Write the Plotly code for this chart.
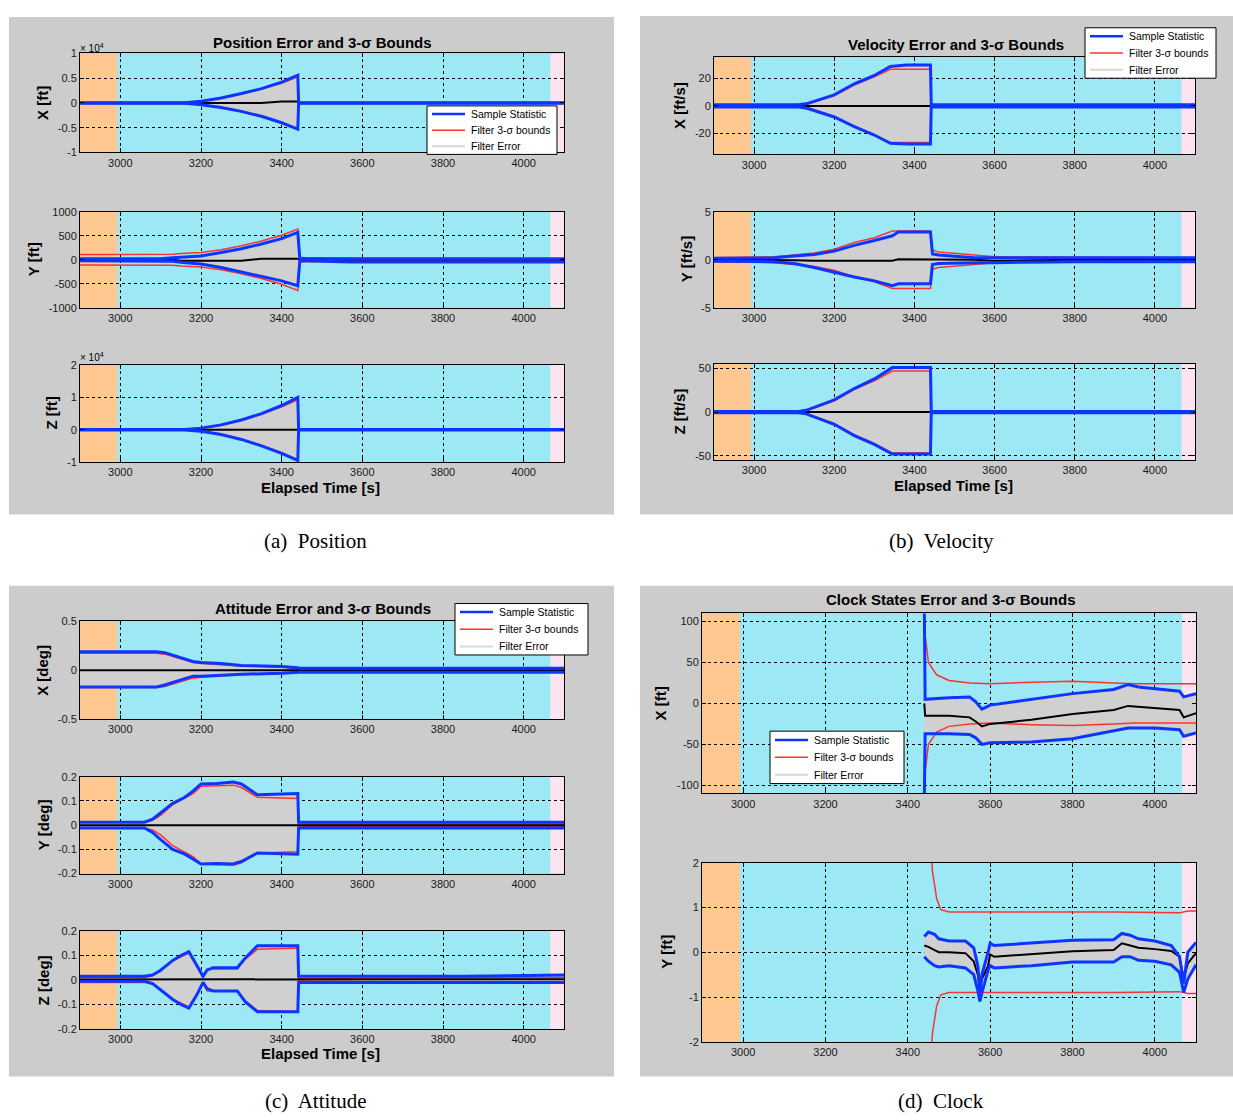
import plotly.graph_objects as go

# ---------------- DATA ----------------
ticks_x = [3000, 3200, 3400, 3600, 3800, 4000]
legend_names = ["Sample Statistic", "Filter 3-σ bounds", "Filter Error"]

# (a) Position
pos_x_t = [2900, 3160, 3200, 3250, 3300, 3350, 3400, 3440, 3442, 4100]
pos_x_hi = [60, 60, 350, 1000, 1900, 2900, 4200, 5600, 60, 60]
pos_x_lo = [-60, -60, -350, -900, -1700, -2700, -4000, -5300, -60, -60]
pos_x_mu = [0, 0, 0, 0, 0, 0, 300, 300, 0, 0]
pos_x_st = pos_x_t
pos_x_sg = [100, 100, 300, 950, 1800, 2800, 4000, 5300, 30, 30]

pos_y_t = [2900, 3100, 3130, 3150, 3200, 3250, 3300, 3350, 3400, 3440, 3445, 3460, 3570, 4100]
pos_y_hi = [20, 20, 40, 50, 80, 150, 230, 330, 440, 570, 20, 20, 20, 20]
pos_y_lo = [-20, -20, -30, -50, -90, -160, -250, -340, -440, -540, -20, -20, -45, -45]
pos_y_mu = [0, 0, 0, -20, -20, -20, -20, 20, 20, 20, 0, 0, 0, 0]
pos_y_st = pos_y_t
pos_y_sg = [110, 110, 115, 130, 150, 210, 290, 390, 510, 640, 50, 40, 25, 20]

pos_z_t = [2900, 3160, 3200, 3250, 3300, 3350, 3400, 3440, 3442, 4100]
pos_z_hi = [100, 100, 500, 1500, 3000, 5000, 7500, 10000, 100, 100]
pos_z_lo = [-100, -100, -500, -1500, -3000, -5000, -7300, -9500, -100, -100]
pos_z_mu = [0, 0, 0, 0, 0, 0, 0, 0, 0, 0]
pos_z_st = pos_z_t
pos_z_sg = [100, 100, 450, 1400, 2900, 4800, 7100, 9300, 50, 50]

# (b) Velocity
vel_x_t = [2900, 3110, 3130, 3200, 3250, 3300, 3340, 3380, 3440, 3442, 4100]
vel_x_hi = [0.8, 0.8, 1.5, 8, 16, 22, 28.5, 29.5, 29.5, 0.8, 0.8]
vel_x_lo = [-0.8, -0.8, -1.5, -8, -15, -21, -27, -27.5, -27.5, -0.8, -0.8]
vel_x_mu = [0, 0, 0, 0, 0, 0, 0, 0, 0, 0, 0]
vel_x_st = vel_x_t
vel_x_sg = [0.5, 0.5, 1, 7.5, 15, 21, 26.5, 26.5, 26.5, 0.3, 0.3]

vel_y_t = [2900, 3050, 3100, 3150, 3200, 3250, 3300, 3345, 3360, 3440, 3445, 3460, 3550, 3600, 3800, 4100]
vel_y_hi = [0.15, 0.2, 0.4, 0.55, 0.9, 1.5, 2.0, 2.5, 2.9, 2.9, 0.6, 0.5, 0.2, 0.2, 0.2, 0.2]
vel_y_lo = [-0.15, -0.2, -0.4, -0.8, -1.3, -1.8, -2.2, -2.7, -2.5, -2.5, -0.5, -0.4, -0.3, -0.3, -0.2, -0.2]
vel_y_mu = [0, 0, -0.05, -0.1, -0.1, -0.1, -0.1, -0.1, 0.05, 0.05, 0.05, 0.0, 0.0, -0.1, 0.0, 0.0]
vel_y_st = vel_y_t
vel_y_sg = [0.2, 0.3, 0.5, 0.7, 1.1, 1.8, 2.3, 3.0, 3.0, 3.0, 1.0, 0.8, 0.5, 0.3, 0.25, 0.2]

vel_z_t = [2900, 3110, 3130, 3200, 3250, 3300, 3345, 3440, 3442, 4100]
vel_z_hi = [0.8, 0.8, 2, 14, 27, 38, 51, 51, 0.8, 0.8]
vel_z_lo = [-0.8, -0.8, -2, -14, -27, -37, -48, -48, -0.8, -0.8]
vel_z_mu = [0, 0, 0, 0, 0, 0, 0, 0, 0, 0]
vel_z_st = vel_z_t
vel_z_sg = [0.5, 0.5, 1.5, 13, 26, 36, 47, 47, 0.3, 0.3]

# (c) Attitude
att_x_t = [2900, 3090, 3110, 3150, 3180, 3200, 3250, 3300, 3400, 3440, 3445, 4100]
att_x_hi = [0.19, 0.19, 0.18, 0.13, 0.09, 0.08, 0.07, 0.05, 0.04, 0.025, 0.022, 0.022]
att_x_lo = [-0.17, -0.17, -0.15, -0.10, -0.06, -0.06, -0.05, -0.04, -0.03, -0.022, -0.02, -0.02]
att_x_mu = [0, 0, 0, 0, 0, 0, 0, 0, 0, 0, 0, 0]
att_x_st = att_x_t
att_x_sg = [0.175, 0.175, 0.165, 0.12, 0.08, 0.07, 0.06, 0.045, 0.035, 0.015, 0.01, 0.01]

att_y_t = [2900, 3060, 3080, 3100, 3130, 3160, 3180, 3200, 3240, 3280, 3300, 3340, 3440, 3442, 4100]
att_y_hi = [0.012, 0.012, 0.025, 0.05, 0.09, 0.115, 0.14, 0.17, 0.172, 0.178, 0.17, 0.125, 0.13, 0.012, 0.012]
att_y_lo = [-0.012, -0.012, -0.03, -0.06, -0.1, -0.12, -0.14, -0.16, -0.158, -0.16, -0.15, -0.115, -0.12, -0.012, -0.012]
att_y_mu = [0, 0, 0, 0, 0, 0.002, 0.002, 0.002, 0.002, 0.002, 0.002, 0.002, 0.002, 0, 0]
att_y_st = att_y_t
att_y_sg = [0.013, 0.013, 0.02, 0.04, 0.085, 0.11, 0.13, 0.16, 0.162, 0.165, 0.155, 0.115, 0.11, 0.005, 0.005]

att_z_t = [2900, 3060, 3080, 3100, 3130, 3150, 3170, 3190, 3205, 3215, 3230, 3290, 3310, 3340, 3400, 3440, 3442, 3850, 4100]
att_z_hi = [0.015, 0.015, 0.02, 0.04, 0.08, 0.1, 0.115, 0.06, 0.015, 0.04, 0.05, 0.05, 0.09, 0.14, 0.14, 0.14, 0.015, 0.015, 0.02]
att_z_lo = [-0.005, -0.005, -0.015, -0.04, -0.08, -0.1, -0.115, -0.06, -0.01, -0.035, -0.045, -0.045, -0.09, -0.13, -0.13, -0.13, -0.01, -0.01, -0.01]
att_z_mu = [0.002, 0.002, 0.002, 0.002, 0.002, 0.002, 0.002, 0.002, 0.002, 0.002, 0.002, 0.002, 0.002, 0.002, 0.002, 0.002, 0.003, 0.003, 0.003]
att_z_st = att_z_t
att_z_sg = [0.01, 0.01, 0.018, 0.038, 0.078, 0.095, 0.11, 0.058, 0.012, 0.045, 0.045, 0.045, 0.085, 0.125, 0.128, 0.13, 0.005, 0.01, 0.01]

# (d) Clock
clk_x_t = [3440, 3442, 3500, 3550, 3565, 3580, 3600, 3700, 3800, 3900, 3935, 3960, 4000, 4060, 4070, 4100]
clk_x_hi = [120, 5, 7, 8, 2, -7, -2, 5, 12, 17, 23, 20, 18, 15, 8, 12]
clk_x_lo = [-120, -37, -37, -38, -42, -50, -48, -47, -43, -33, -30, -30, -30, -32, -40, -36]
clk_x_mu = [0, -15, -15, -17, -22, -28, -25, -20, -13, -8, -3, -4, -5, -8, -17, -12]
clk_x_st = [3443, 3450, 3470, 3500, 3550, 3600, 3700, 3800, 3900, 3950, 4100]
clk_x_sg = [80, 50, 35, 28, 25, 24, 26, 27, 25, 24, 24]

clk_y_t = [3440, 3450, 3465, 3475, 3500, 3540, 3560, 3570, 3575, 3580, 3595, 3600, 3610, 3700, 3800,
           3900, 3920, 3940, 3960, 4000, 4040, 4060, 4070, 4080, 4100]
clk_y_hi = [0.35, 0.45, 0.4, 0.3, 0.25, 0.25, 0.1, -0.3, -0.9, -0.5, 0.0, 0.2, 0.15, 0.2, 0.27,
            0.28, 0.42, 0.38, 0.3, 0.25, 0.15, -0.1, -0.7, 0.0, 0.22]
clk_y_lo = [-0.1, -0.2, -0.3, -0.33, -0.3, -0.35, -0.5, -0.85, -1.1, -0.9, -0.4, -0.3, -0.35, -0.3, -0.22,
            -0.22, -0.1, -0.1, -0.18, -0.2, -0.28, -0.45, -0.9, -0.6, -0.28]
clk_y_mu = [0.15, 0.12, 0.05, 0.0, 0.0, -0.02, -0.2, -0.5, -0.8, -0.6, -0.3, -0.05, -0.1, -0.05, 0.02,
            0.05, 0.2, 0.15, 0.1, 0.07, 0.03, -0.1, -0.6, -0.25, -0.02]
clk_y_st = [3450, 3460, 3470, 3480, 3500, 3900, 4060, 4080, 4100]
clk_y_sg = [3.0, 1.8, 1.2, 0.95, 0.9, 0.9, 0.88, 0.92, 0.92]

# y tick labels
pos_x_ticks = [-10000, -5000, 0, 5000, 10000]
pos_x_text = ["-1", "-0.5", "0", "0.5", "1"]
pos_y_ticks = [-1000, -500, 0, 500, 1000]
pos_y_text = ["-1000", "-500", "0", "500", "1000"]
pos_z_ticks = [-10000, 0, 10000, 20000]
pos_z_text = ["-1", "0", "1", "2"]
vel_x_ticks = [-20, 0, 20]
vel_x_text = ["-20", "0", "20"]
vel_y_ticks = [-5, 0, 5]
vel_y_text = ["-5", "0", "5"]
vel_z_ticks = [-50, 0, 50]
vel_z_text = ["-50", "0", "50"]
att_x_ticks = [-0.5, 0, 0.5]
att_x_text = ["-0.5", "0", "0.5"]
att_yz_ticks = [-0.2, -0.1, 0, 0.1, 0.2]
att_yz_text = ["-0.2", "-0.1", "0", "0.1", "0.2"]
clk_x_ticks = [-100, -50, 0, 50, 100]
clk_x_text = ["-100", "-50", "0", "50", "100"]
clk_y_ticks = [-2, -1, 0, 1, 2]
clk_y_text = ["-2", "-1", "0", "1", "2"]

# ---------------- STYLE / LAYOUT ----------------
W, H = 1233, 1120
BLUE = "#0d35ff"
RED = "#ff3030"
BAND = "#d0d0d0"
ERRLINE = "#d8d8d8"
CYAN = "#9ce9f5"
ORANGE = "#ffc891"
PINK = "#fbe3f1"
PANEL = "#cccccc"
SANS = "Liberation Sans, Arial, sans-serif"
SERIF = "Liberation Serif, Times New Roman, serif"
XR = [2900, 4100]
ORANGE_END = 2992
PINK_START = 4066


def fx(p):
    return p / W


def fy(p):
    return 1 - p / H


fig = go.Figure()

subplots = [
    (pos_x_t, pos_x_hi, pos_x_lo, pos_x_mu, pos_x_st, pos_x_sg, (80, 564, 48, 148), [-10000, 10000], pos_x_ticks, pos_x_text),
    (pos_y_t, pos_y_hi, pos_y_lo, pos_y_mu, pos_y_st, pos_y_sg, (80, 564, 208, 305), [-1000, 1000], pos_y_ticks, pos_y_text),
    (pos_z_t, pos_z_hi, pos_z_lo, pos_z_mu, pos_z_st, pos_z_sg, (80, 564, 363, 461), [-10000, 20000], pos_z_ticks, pos_z_text),
    (vel_x_t, vel_x_hi, vel_x_lo, vel_x_mu, vel_x_st, vel_x_sg, (714, 1195, 52, 150), [-35, 35], vel_x_ticks, vel_x_text),
    (vel_y_t, vel_y_hi, vel_y_lo, vel_y_mu, vel_y_st, vel_y_sg, (714, 1195, 208, 305), [-5, 5], vel_y_ticks, vel_y_text),
    (vel_z_t, vel_z_hi, vel_z_lo, vel_z_mu, vel_z_st, vel_z_sg, (714, 1195, 362, 459), [-55, 55], vel_z_ticks, vel_z_text),
    (att_x_t, att_x_hi, att_x_lo, att_x_mu, att_x_st, att_x_sg, (80, 564, 622, 721), [-0.5, 0.5], att_x_ticks, att_x_text),
    (att_y_t, att_y_hi, att_y_lo, att_y_mu, att_y_st, att_y_sg, (80, 564, 779, 877), [-0.2, 0.2], att_yz_ticks, att_yz_text),
    (att_z_t, att_z_hi, att_z_lo, att_z_mu, att_z_st, att_z_sg, (80, 564, 935, 1034), [-0.2, 0.2], att_yz_ticks, att_yz_text),
    (clk_x_t, clk_x_hi, clk_x_lo, clk_x_mu, clk_x_st, clk_x_sg, (702, 1196, 614, 796), [-110, 110], clk_x_ticks, clk_x_text),
    (clk_y_t, clk_y_hi, clk_y_lo, clk_y_mu, clk_y_st, clk_y_sg, (702, 1196, 866, 1047), [-2, 2], clk_y_ticks, clk_y_text),
]

shapes = []
for (l, r, t, b) in [(9, 614, 11, 514), (640, 1233, 10, 514), (9, 614, 586, 1082), (640, 1233, 586, 1082)]:
    shapes.append(dict(type="rect", xref="paper", yref="paper", x0=fx(l), x1=fx(r), y0=fy(b), y1=fy(t),
                       fillcolor=PANEL, line=dict(width=0), layer="below"))

layout_axes = {}
for i, (t, hi, lo, mu, st, sg, box, yr, yt, ytt) in enumerate(subplots, start=1):
    xa = "x" if i == 1 else f"x{i}"
    ya = "y" if i == 1 else f"y{i}"
    common = dict(xaxis=xa, yaxis=ya, hoverinfo="skip", showlegend=False, mode="lines")
    # filter error band
    fig.add_trace(go.Scatter(x=t, y=lo, line=dict(width=0), **common))
    fig.add_trace(go.Scatter(x=t, y=hi, line=dict(width=0), fill="tonexty", fillcolor=BAND,
                             name="Filter Error", **common))
    # filter 3-sigma bounds
    fig.add_trace(go.Scatter(x=st, y=sg, line=dict(color=RED, width=1.5), name="Filter 3-σ bounds", **common))
    fig.add_trace(go.Scatter(x=st, y=[-v for v in sg], line=dict(color=RED, width=1.5), **common))
    # mean error
    fig.add_trace(go.Scatter(x=t, y=mu, line=dict(color="black", width=2), **common))
    # sample statistic
    fig.add_trace(go.Scatter(x=t, y=hi, line=dict(color=BLUE, width=3), name="Sample Statistic", **common))
    fig.add_trace(go.Scatter(x=t, y=lo, line=dict(color=BLUE, width=3), **common))

    l, r, tp, bt = box
    axstyle = dict(showline=True, linecolor="black", linewidth=1, mirror="ticks", ticks="inside",
                   ticklen=4, tickcolor="black", showgrid=True, gridcolor="black", griddash="dot",
                   gridwidth=1, zeroline=False, tickfont=dict(family=SANS, size=11, color="#1a1a1a"),
                   fixedrange=True)
    layout_axes["xaxis" if i == 1 else f"xaxis{i}"] = dict(
        domain=[fx(l), fx(r)], range=XR, anchor=ya, tickmode="array",
        tickvals=ticks_x, ticktext=[str(v) for v in ticks_x], **axstyle)
    layout_axes["yaxis" if i == 1 else f"yaxis{i}"] = dict(
        domain=[fy(bt), fy(tp)], range=yr, anchor=xa, tickmode="array",
        tickvals=yt, ticktext=ytt, **axstyle)

    for x0, x1, col in [(XR[0], XR[1], CYAN), (XR[0], ORANGE_END, ORANGE), (PINK_START, XR[1], PINK)]:
        shapes.append(dict(type="rect", xref=xa, yref=ya, x0=x0, x1=x1, y0=yr[0], y1=yr[1],
                           fillcolor=col, line=dict(width=0), layer="below"))

annotations = []


def ann(text, x, y, size, bold=False, angle=0, family=SANS, xanchor="center"):
    annotations.append(dict(text=f"<b>{text}</b>" if bold else text, x=fx(x), y=fy(y),
                            xref="paper", yref="paper", showarrow=False, textangle=angle,
                            xanchor=xanchor, yanchor="middle",
                            font=dict(family=family, size=size, color="black")))


# titles
ann("Position Error and 3-σ Bounds", 323, 37, 15, True)
ann("Velocity Error and 3-σ Bounds", 956, 39, 15, True)
ann("Attitude Error and 3-σ Bounds", 323, 609, 15, True)
ann("Clock States Error and 3-σ Bounds", 951, 600, 15, True)
# y-axis titles
for txt, x, y in [("X [ft]", 43, 98), ("Y [ft]", 33, 256), ("Z [ft]", 52, 412),
                  ("X [ft/s]", 680, 101), ("Y [ft/s]", 686, 256), ("Z [ft/s]", 680, 410),
                  ("X [deg]", 43, 672), ("Y [deg]", 43, 828), ("Z [deg]", 43, 985),
                  ("X [ft]", 660, 705), ("Y [ft]", 667, 956)]:
    ann(txt, x, y, 15, True, -90)
# x-axis titles
ann("Elapsed Time [s]", 320, 487, 15, True)
ann("Elapsed Time [s]", 953, 485, 15, True)
ann("Elapsed Time [s]", 320, 1059, 15, True)
# exponent labels
ann("× 10<sup>4</sup>", 78, 42, 10, False, xanchor="left")
ann("× 10<sup>4</sup>", 78, 355, 10, False, xanchor="left")
# captions
ann("(a)  Position", 315, 541, 21, family=SERIF)
ann("(b)  Velocity", 941, 541, 21, family=SERIF)
ann("(c)  Attitude", 315, 1107, 21, family=SERIF)
ann("(d)  Clock", 941, 1107, 21, family=SERIF)

# legends (box, line samples, labels) drawn in pixel positions
legend_styles = [(BLUE, 2.5), (RED, 1.5), (ERRLINE, 2)]
for (l, r, t, b) in [(427, 557, 101, 150), (1085, 1216, 22, 73), (455, 588, 604, 656), (770, 904, 733, 786)]:
    shapes.append(dict(type="rect", xref="paper", yref="paper", x0=fx(l), x1=fx(r), y0=fy(b), y1=fy(t),
                       fillcolor="white", line=dict(color="black", width=1), layer="above"))
    step = (b - t) / 3.0
    for k, (name, (col, wd)) in enumerate(zip(legend_names, legend_styles)):
        yy = t + step * (k + 0.5)
        shapes.append(dict(type="line", xref="paper", yref="paper", x0=fx(l + 5), x1=fx(l + 38),
                           y0=fy(yy), y1=fy(yy), line=dict(color=col, width=wd), layer="above"))
        annotations.append(dict(text=name, x=fx(l + 42), y=fy(yy), xref="paper", yref="paper",
                                showarrow=False, xanchor="left", yanchor="middle",
                                font=dict(family=SANS, size=10.5, color="black")))

fig.update_layout(
    width=W, height=H, margin=dict(l=0, r=0, t=0, b=0),
    paper_bgcolor="white", plot_bgcolor="rgba(0,0,0,0)",
    shapes=shapes, annotations=annotations, showlegend=False,
    **layout_axes,
)

fig.write_html("out.html", config={"displayModeBar": False},
               post_script="document.body.style.margin='0';")
